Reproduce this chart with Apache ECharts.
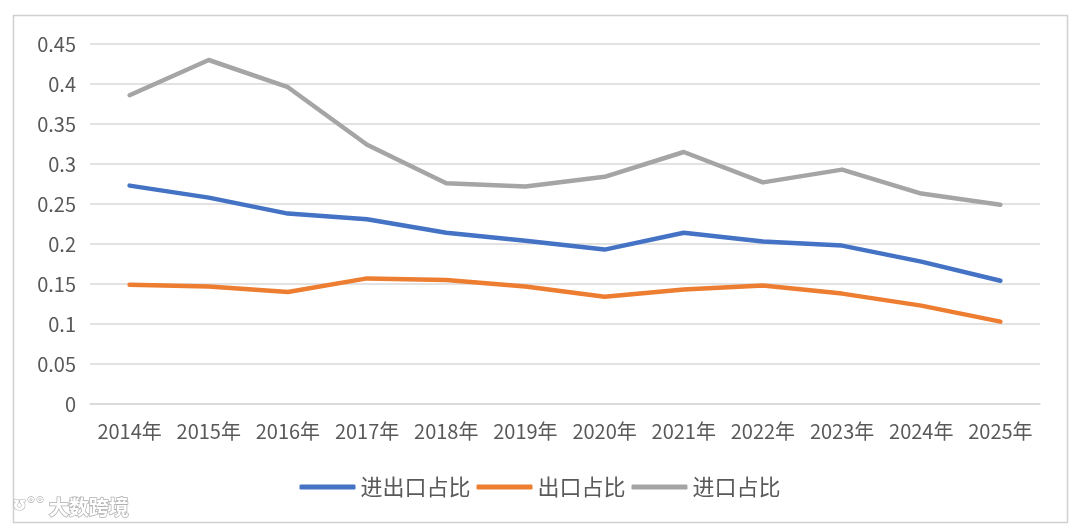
<!DOCTYPE html>
<html>
<head>
<meta charset="utf-8">
<script src="https://cdn.jsdelivr.net/npm/echarts@6/dist/echarts.min.js"></script>
<style>
html,body{margin:0;padding:0;background:#fff;}
#c{width:1080px;height:531px;}
</style>
</head>
<body>
<div id="c"></div>
<script>
var categories = ['2014年','2015年','2016年','2017年','2018年','2019年','2020年','2021年','2022年','2023年','2024年','2025年'];
var totalShare = [0.273,0.258,0.238,0.231,0.214,0.204,0.193,0.214,0.203,0.198,0.178,0.154];
var exportShare = [0.149,0.147,0.140,0.157,0.155,0.147,0.134,0.143,0.148,0.138,0.123,0.103];
var importShare = [0.386,0.430,0.396,0.324,0.276,0.272,0.284,0.315,0.277,0.293,0.263,0.249];
var seriesNames = ['进出口占比','出口占比','进口占比'];

var chart = echarts.init(document.getElementById('c'), null, {renderer:'canvas'});
var font = '"Noto Sans CJK SC","Noto Sans",sans-serif';
function mk(name, data, color){
  return {
    name: name, type: 'line', data: data, symbol: 'none', smooth: false,
    lineStyle: {color: color, width: 4.5, cap: 'round', join: 'round'},
    itemStyle: {color: color}
  };
}
chart.setOption({
  backgroundColor: '#fff',
  animation: false,
  grid: {left: 90, right: 40, top: 44, bottom: 127, containLabel: false},
  xAxis: {
    type: 'category', data: categories, boundaryGap: true,
    axisLine: {show: true, lineStyle: {color: '#D9D9D9', width: 1.5}},
    axisTick: {show: false},
    axisLabel: {color: '#595959', fontSize: 20, fontFamily: font, margin: 17, interval: 0}
  },
  yAxis: {
    type: 'value', min: 0, max: 0.45, interval: 0.05,
    axisLine: {show: false}, axisTick: {show: false},
    splitLine: {lineStyle: {color: '#D9D9D9', width: 1.5}},
    axisLabel: {color: '#595959', fontSize: 20, fontFamily: font, margin: 14,
      formatter: function(v){ return String(+v.toFixed(2)); }}
  },
  legend: {
    data: seriesNames, bottom: 28, left: 'center',
    icon: 'roundRect', itemWidth: 56, itemHeight: 5, itemGap: 6,
    textStyle: {color: '#595959', fontSize: 22, fontFamily: font}
  },
  graphic: [
    {type: 'rect', shape: {x: 13.5, y: 15.5, width: 1054, height: 507},
     style: {fill: 'none', stroke: '#D0D0D0', lineWidth: 1.5}, silent: true},
    {type: 'text', left: 48, top: 497,
     style: {text: '大数跨境', fill: '#ffffff', stroke: '#B0B0B0', lineWidth: 1.5,
       font: 'bold 20px "Noto Sans CJK SC", sans-serif'}, silent: true},
    {type: 'text', left: 12, top: 496,
     style: {text: 'ʊ°°', fill: '#ffffff', stroke: '#B0B0B0', lineWidth: 1.2,
       font: 'bold 18px "DejaVu Sans", sans-serif'}, silent: true}
  ],
  series: [
    mk(seriesNames[0], totalShare, '#4472C4'),
    mk(seriesNames[1], exportShare, '#ED7D31'),
    mk(seriesNames[2], importShare, '#A5A5A5')
  ]
});
</script>
</body>
</html>
